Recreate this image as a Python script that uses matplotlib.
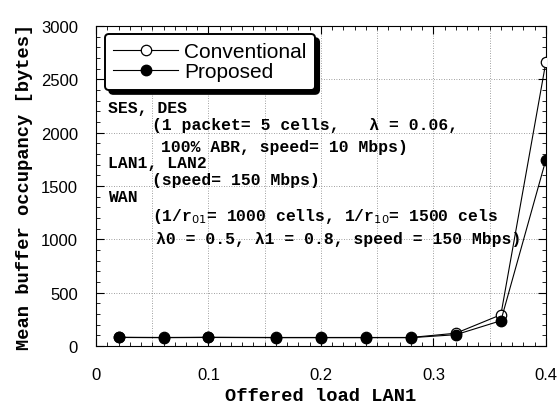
import matplotlib
matplotlib.use("Agg")
import matplotlib.pyplot as plt
from matplotlib.ticker import MultipleLocator

# offered load on LAN1 and mean buffer occupancy [bytes]
load = [0.02, 0.06, 0.10, 0.16, 0.20, 0.24, 0.28, 0.32, 0.36, 0.40]
conventional = [82, 80, 82, 80, 80, 80, 80, 120, 293, 2660]
proposed = [80, 78, 80, 78, 78, 78, 78, 106, 237, 1745]

x_ticks = [0, 0.1, 0.2, 0.3, 0.4]
x_tick_labels = ["0", "0.1", "0.2", "0.3", "0.4"]
y_ticks = [0, 500, 1000, 1500, 2000, 2500, 3000]

mono = "Liberation Mono"
sans = "Liberation Sans"

fig = plt.figure(figsize=(5.57, 4.06), dpi=100)
ax = fig.add_axes([0.1724, 0.1453, 0.8076, 0.7882])

ax.plot(load, conventional, color="black", lw=0.8, marker="o", ms=7.5,
        mfc="white", mec="black", mew=0.9, label="Conventional", zorder=3)
ax.plot(load, proposed, color="black", lw=0.8, marker="o", ms=7.5,
        mfc="black", mec="black", label="Proposed", zorder=4)

ax.set_xlim(0, 0.4)
ax.set_ylim(0, 3000)
ax.set_xticks(x_ticks)
ax.set_xticklabels(x_tick_labels)
ax.set_yticks(y_ticks)
ax.xaxis.set_minor_locator(MultipleLocator(0.01))
ax.yaxis.set_minor_locator(MultipleLocator(100))
ax.tick_params(which="both", direction="in", top=True, right=True,
               labelsize=12, pad=15)
ax.tick_params(axis="y", pad=13)
ax.tick_params(which="major", length=6, width=0.8)
ax.tick_params(which="minor", length=3, width=0.6)
for lab in ax.get_xticklabels() + ax.get_yticklabels():
    lab.set_fontfamily(sans)

# dotted grid every 0.05 / 500
for gx in [0.05 * i for i in range(1, 8)]:
    ax.axvline(gx, color="gray", lw=0.6, ls=(0, (1, 2)), zorder=1)
for gy in [500 * i for i in range(1, 6)]:
    ax.axhline(gy, color="gray", lw=0.6, ls=(0, (1, 2)), zorder=1)

ax.set_xlabel("Offered load LAN1", fontfamily=mono, fontweight="bold",
              fontsize=13.5, labelpad=4)
ax.set_ylabel("Mean buffer occupancy [bytes]", fontfamily=mono,
              fontweight="bold", fontsize=13.5, labelpad=6)

leg = ax.legend(loc="upper left", bbox_to_anchor=(0.02, 0.975),
                prop={"family": sans, "size": 15}, frameon=True,
                fancybox=True, shadow={"ox": 3, "oy": -3, "color": "black",
                                       "alpha": 1},
                handlelength=3.1, handletextpad=0.3, labelspacing=0.05,
                borderpad=0.4, borderaxespad=0)
leg.get_frame().set_edgecolor("black")
leg.get_frame().set_linewidth(1.4)
leg.get_frame().set_alpha(1)

# annotation block
tkw = dict(fontfamily=mono, fontweight="bold", fontsize=11.8,
           va="center", ha="left", zorder=5)
ax.text(0.0105, 2240, "SES, DES", **tkw)
ax.text(0.050, 2075, "(1 packet= 5 cells,   \u03bb = 0.06,", **tkw)
ax.text(0.058, 1870, "100% ABR, speed= 10 Mbps)", **tkw)
ax.text(0.0105, 1720, "LAN1, LAN2", **tkw)
ax.text(0.050, 1560, "(speed= 150 Mbps)", **tkw)
ax.text(0.0105, 1400, "WAN", **tkw)
ax.text(0.050, 1220, "(1/r$_{01}$= 1000 cells, 1/r$_{10}$= 1500 cels", **tkw)
ax.text(0.053, 1010, "\u03bb0 = 0.5, \u03bb1 = 0.8, speed = 150 Mbps)", **tkw)

fig.savefig("out.png", dpi=100)
